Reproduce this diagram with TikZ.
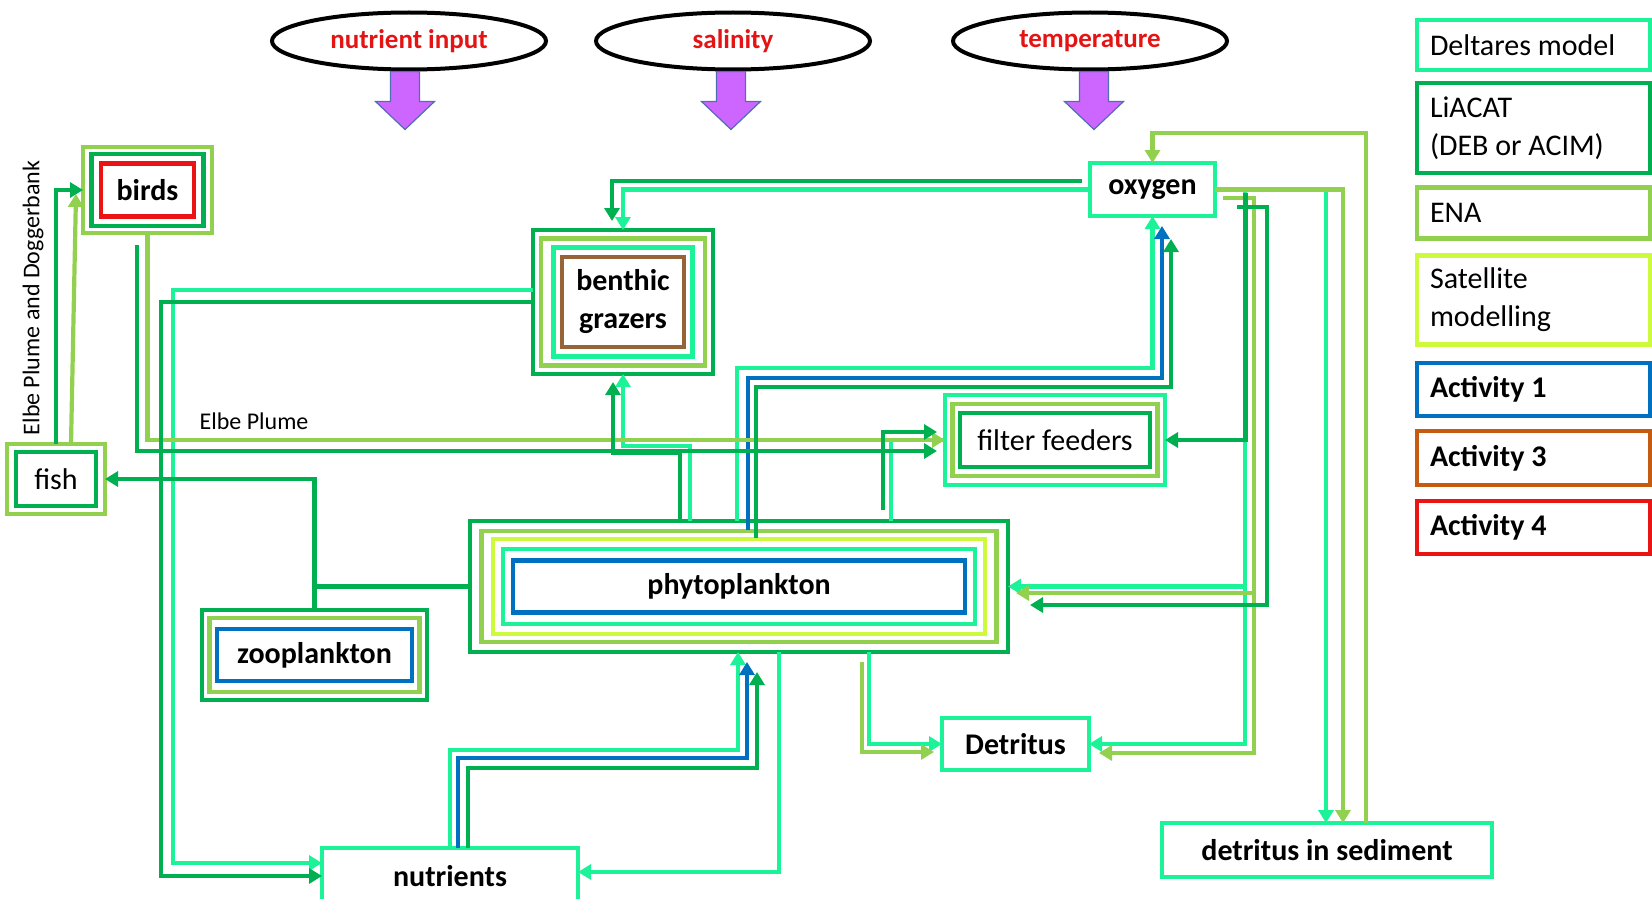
\documentclass[tikz,border=0pt]{standalone}
\usepackage{fontspec}
\setmainfont{Carlito}
\usetikzlibrary{arrows.meta,shapes.geometric}

\definecolor{deltares}{RGB}{28,242,152}
\definecolor{liacat}{RGB}{0,176,80}
\definecolor{ena}{RGB}{146,208,80}
\definecolor{satel}{RGB}{205,250,60}
\definecolor{act1}{RGB}{0,112,192}
\definecolor{act3}{RGB}{197,90,17}
\definecolor{act4}{RGB}{235,20,20}
\definecolor{benthbrown}{RGB}{150,100,55}
\definecolor{driverred}{RGB}{228,20,20}
\definecolor{pushfill}{RGB}{204,102,255}
\definecolor{pushedge}{RGB}{80,110,180}

\tikzset{lay/.style={draw=#1,line width=4.5pt,inner sep=0pt,outer sep=0pt},
	boldtxt/.style={font=\fontsize{30}{38}\selectfont\bfseries},
	regtxt/.style={font=\fontsize{30}{38}\selectfont},
	labeltxt/.style={font=\fontsize{24}{28}\selectfont,inner sep=0pt},
	legbox/.style={lay=#1,regtxt,text width=207pt,inner xsep=13pt,align=flush left},
	driver/.style={ellipse,draw=black,line width=4pt,inner sep=0pt,minimum width=274,minimum height=57,
		text=driverred,font=\fontsize{27}{30}\selectfont\bfseries},
	pushdown/.style={fill=pushfill,draw=pushedge,line width=1.2pt,line join=miter},
	wire/.style={draw=#1,line width=4.2pt},
	link/.style={wire=#1,-{Triangle[length=13pt,width=15pt]}}}

\begin{document}
\begin{tikzpicture}[x=1pt,y=-1pt]
	\useasboundingbox (0,0) rectangle (1652,899);
	\clip (0,0) rectangle (1652,899);
	%
	\node[driver] (nin) at (409,41) {nutrient input};
	\node[driver] (sal) at (733,41) {salinity};
	\node[driver] (temp) at (1090,41) {temperature};
	\foreach \e/\dx in {nin/-4,sal/-2,temp/4}
		\draw[pushdown] ([xshift=\dx pt]\e.south) ++(-14.5,0) -- ++(0,30) -- ++(-15,0) -- ++(29.5,28)
			-- ++(29.5,-28) -- ++(-15,0) -- ++(0,-30) -- cycle;
	%
	\node[legbox=deltares,minimum height=50] (lgDel) at (1533.5,45) {Deltares model};
	\node[legbox=liacat,minimum height=90] (lgLia) at (1533.5,128) {LiACAT\\(DEB or ACIM)};
	\node[legbox=ena,minimum height=51] (lgEna) at (1533.5,213) {ENA};
	\node[legbox=satel,minimum height=89] (lgSat) at (1533.5,300) {Satellite\\modelling};
	\node[legbox=act1,boldtxt,minimum height=53] (lgAct1) at (1533.5,389.5) {Activity 1};
	\node[legbox=act3,boldtxt,minimum height=54] (lgAct3) at (1533.5,458) {Activity 3};
	\node[legbox=act4,boldtxt,minimum height=53] (lgAct4) at (1533.5,527.5) {Activity 4};
	%
	\node[lay=ena,minimum width=129,minimum height=86] (birdsA) at (147.5,190) {};
	\node[lay=liacat,minimum width=112,minimum height=72] (birdsB) at (147.5,190) {};
	\node[lay=act4,minimum width=93,minimum height=53,boldtxt] (birds) at (147.5,190) {birds};
	%
	\node[lay=ena,minimum width=98,minimum height=70] (fishA) at (56,479) {};
	\node[lay=liacat,minimum width=80,minimum height=54,regtxt] (fish) at (56,479) {fish};
	%
	\node[lay=liacat,minimum width=180,minimum height=144] (benA) at (623,302) {};
	\node[lay=ena,minimum width=164,minimum height=127] (benB) at (623,302) {};
	\node[lay=deltares,minimum width=139,minimum height=109] (benC) at (623,302) {};
	\node[lay=benthbrown,minimum width=122,minimum height=90,boldtxt,align=center] (ben) at (623,302) {benthic\\grazers};
	%
	\node[lay=deltares,minimum width=125,minimum height=53,boldtxt] (oxy) at (1152.5,189.5) {oxygen};
	%
	\node[lay=deltares,minimum width=220,minimum height=90] (ffA) at (1055,440) {};
	\node[lay=ena,minimum width=205,minimum height=72] (ffB) at (1055,440) {};
	\node[lay=liacat,minimum width=190,minimum height=54,regtxt] (ff) at (1055,440) {filter feeders};
	%
	\node[lay=liacat,minimum width=538,minimum height=131] (phA) at (739,586.5) {};
	\node[lay=ena,minimum width=515,minimum height=111] (phB) at (739,586.5) {};
	\node[lay=satel,minimum width=492,minimum height=95] (phC) at (739,586.5) {};
	\node[lay=deltares,minimum width=472,minimum height=75] (phD) at (739,586.5) {};
	\node[lay=act1,minimum width=452,minimum height=52,boldtxt] (ph) at (739,586.5) {phytoplankton};
	%
	\node[lay=liacat,minimum width=225,minimum height=90] (zooA) at (314.5,655) {};
	\node[lay=ena,minimum width=210,minimum height=74] (zooB) at (314.5,655) {};
	\node[lay=act1,minimum width=195,minimum height=52,boldtxt] (zoo) at (314.5,655) {zooplankton};
	%
	\node[lay=deltares,minimum width=147,minimum height=52,boldtxt] (det) at (1015.5,744) {Detritus};
	\node[lay=deltares,minimum width=256,minimum height=56,boldtxt] (nutr) at (450,876) {nutrients};
	\node[lay=deltares,minimum width=330,minimum height=54,boldtxt] (sed) at (1327,850) {detritus in sediment};
	%
	\node[labeltxt] (elbe) at (254,421) {Elbe Plume};
	\node[labeltxt,rotate=90] (elbedog) at (33,298) {Elbe Plume and Doggerbank};
	%
	% Deltares model
	\draw[wire=deltares] ([xshift=152pt]phA.north) |- (ffA.west);
	\draw[link=deltares] ([yshift=12pt]benA.west) -- (173,290) |- ([yshift=13pt]nutr.west);
	\draw[link=deltares] (oxy.west) -| (benA.north);
	\draw[link=deltares] ([xshift=-49pt]phA.north) -- (690,446) -| (benA.south);
	\draw[link=deltares] ([xshift=-2pt]phA.north) -- (737,368) -| (oxy.south);
	\draw[link=deltares] ([xshift=130pt]phA.south) |- (det.west);
	\draw[link=deltares] ([xshift=40pt]phA.south) |- ([yshift=4pt]nutr.east);
	\draw[link=deltares] (nutr.north) -- (450,750) -| ([xshift=-1pt]phA.south);
	\draw[link=deltares] (oxy.east) -| ([xshift=-1pt]sed.north);
	\draw[link=deltares] (oxy.east) -| (1245,586.5) -- (phA.east);
	\draw[link=deltares] (oxy.east) -| (1245,744) -- (det.east);
	% Activity 1
	\draw[link=act1,shorten >=10pt] ([xshift=9pt,yshift=-9pt]phA.north) -- (748,378) -| ([xshift=9.5pt]oxy.south);
	\draw[link=act1,shorten >=10pt] ([xshift=8pt]nutr.north) -- (458,758) -| ([xshift=8pt]phA.south);
	% ENA
	\draw[link=ena] ([xshift=15pt]fishA.north) -- ([xshift=-7pt,yshift=-4pt]birdsA.west);
	\draw[link=ena] (birdsA.south) |- (ffA.west);
	\draw[link=ena,shorten >=8pt] ([xshift=123pt,yshift=-10pt]phA.south) |- ([yshift=-8pt]det.west);
	\draw[link=ena] ([xshift=39pt]sed.north) -- (1366,133) -| (oxy.north);
	\draw[link=ena] (oxy.east) -| ([xshift=16pt]sed.north);
	\draw[link=ena,shorten >=8pt] ([xshift=8pt,yshift=-8.5pt]oxy.east) -| (1254,593) -- ([yshift=-6.5pt]phA.east);
	\draw[link=ena,shorten >=10pt] ([xshift=8pt,yshift=-8.5pt]oxy.east) -| (1254,753) -- ([yshift=-9pt]det.east);
	% LiACAT
	\draw[link=liacat] (fishA.north) |- (birdsA.west);
	\draw[link=liacat,shorten >=8pt] ([xshift=-10.5pt,yshift=-12pt]birdsA.south) |- ([yshift=-11pt]ffA.west);
	\draw[link=liacat] (benA.west) -- (161,302) |- (nutr.west);
	\draw[link=liacat,shorten >=9pt] ([xshift=-8pt,yshift=8.5pt]oxy.west) -| ([xshift=-11pt]benA.north);
	\draw[link=liacat,shorten >=8pt] ([xshift=-59pt]phA.north) -- (680,453) -| ([xshift=-10pt]benA.south);
	\draw[link=liacat,shorten >=23pt] ([xshift=17pt,yshift=-17pt]phA.north) -- (756,387) -| ([xshift=18.5pt]oxy.south);
	\draw[link=liacat,shorten >=8pt] ([xshift=144pt,yshift=11pt]phA.north) |- ([yshift=8pt]ffA.west);
	\draw[link=liacat,shorten >=20pt] ([xshift=18pt]nutr.north) -- (468,768) -| ([xshift=18pt]phA.south);
	\draw[link=liacat] (zooA.north) |- (fishA.east);
	\draw[wire=liacat] (phA.west) -- (314.5,586.5);
	\draw[link=liacat] ([xshift=30.5pt,yshift=-3pt]oxy.east) |- (ffA.east);
	\draw[link=liacat,shorten >=22pt] ([xshift=22pt,yshift=-17.5pt]oxy.east) -| (1267,605) -- ([yshift=-18.5pt]phA.east);
\end{tikzpicture}
\end{document}
